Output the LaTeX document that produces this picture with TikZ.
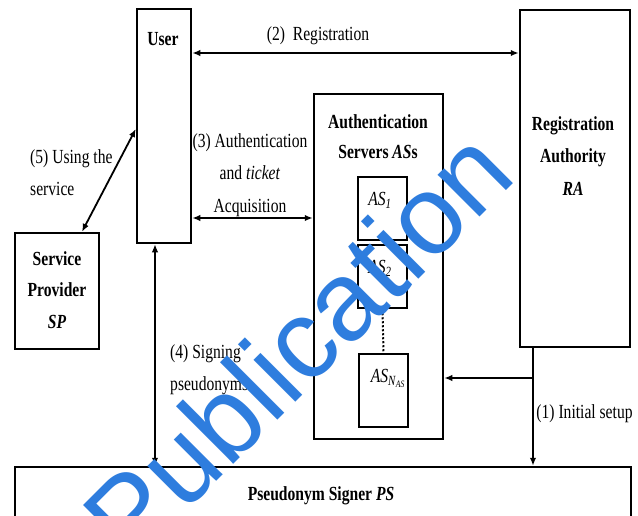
\documentclass[tikz,border=0pt]{standalone}
\usepackage{fontspec}
\setmainfont{Liberation Serif}
\newfontfamily\wmfont{Liberation Sans}
\usepackage{graphicx}
\usetikzlibrary{arrows.meta,calc}
\definecolor{wmblue}{RGB}{46,125,222}
\newcommand{\cx}[1]{\scalebox{0.78}[1]{#1}}
\newcommand{\tl}[2][c]{\cx{\begin{tabular}[t]{@{}#1@{}}#2\end{tabular}}}
\begin{document}
\begin{tikzpicture}[x=1pt,y=-1pt,
  box/.style={draw,line width=2.5pt,rectangle,inner sep=0pt,minimum width=#1},
  box/.default=10pt,
  txt/.style={inner sep=0pt,anchor=base,font=\fontsize{20}{32.5}\selectfont},
  arr/.style={line width=1.8pt,{Latex[length=8pt,width=6.5pt]}-{Latex[length=8pt,width=6.5pt]}},
  arrone/.style={line width=1.8pt,-{Latex[length=8pt,width=6.5pt]}}]
\useasboundingbox (0,0) rectangle (638,515);
\fill[white] (0,0) rectangle (638,515);
% boxes
\node[box=54pt,minimum height=234pt] (user) at (164,126) {};
\node[box=110pt,minimum height=337pt] (ra) at (575,178.5) {};
\node[box=129pt,minimum height=345pt] (as) at (378.5,266.5) {};
\node[box=49pt,minimum height=63pt] (as1) at (382.5,208.5) {};
\node[box=49pt,minimum height=63pt] (as2) at (382.5,276.5) {};
\node[box=49pt,minimum height=73pt] (asn) at (383.5,390.5) {};
\node[box=84pt,minimum height=116pt] (sp) at (57,291) {};
\node[box=616pt,minimum height=63pt] (ps) at (323,498.5) {};
% box texts
\node[txt] (usert) at (163,45) {\cx{\textbf{User}}};
\node[txt] (rat) at (573,130) {\tl{\textbf{Registration}\\\textbf{Authority}\\\textbf{\textit{RA}}}};
\node[txt,font=\fontsize{20}{30}\selectfont] (ast) at (378,128) {\tl{\textbf{Authentication}\\\textbf{Servers \textit{AS}s}}};
\node[txt] (as1t) at (380,205) {\cx{\textit{AS}\textsubscript{\textit{1}}}};
\node[txt] (as2t) at (380,273) {\cx{\textit{AS}\textsubscript{\textit{2}}}};
\node[txt] (asnt) at (388,382) {\cx{\textit{AS}\textsubscript{\textit{N}\textsubscript{\textit{AS}}}}};
\node[txt,font=\fontsize{20}{31.5}\selectfont] (spt) at (57,265) {\tl{\textbf{Service}\\\textbf{Provider}\\\textbf{\textit{SP}}}};
\node[txt] (pst) at (321,500) {\cx{\textbf{Pseudonym Signer \textit{PS}}}};
% connectors
\coordinate (regy) at (0,53);
\coordinate (authy) at (0,218);
\coordinate (initx) at (533,0);
\coordinate (branchy) at (0,378);
\coordinate (signx) at (155,0);
\draw[arr] (user.east |- regy) -- (ra.west |- regy);
\draw[arr] (user.east |- authy) -- (as.west |- authy);
\draw[arr] ($(sp.north)+(25,0)$) -- ($(user.west)+(0,3)$);
\draw[arr,line width=1.5pt] (user.south -| signx) -- (ps.north -| signx);
\draw[arrone] (ra.south -| initx) -- (ps.north -| initx);
\draw[arrone] (initx |- branchy) -- (as.east |- branchy);
\draw[line width=2pt,dotted] (as2.south) -- (asn.north);
% connector labels
\node[txt] (regl) at (318,40) {\cx{(2)~~Registration}};
\node[txt] (authl) at (250,147) {\tl{(3) Authentication\\and \textit{ticket}\\Acquisition}};
\node[txt,anchor=base west] (usel) at (30,163) {\tl[l]{(5) Using the\\service}};
\node[txt,anchor=base west] (signl) at (170,358) {\tl[l]{(4) Signing\\pseudonyms}};
\node[txt] (initl) at (584.5,418) {\cx{(1) Initial setup}};
% watermark
\node[inner sep=0pt,rotate=45,text=wmblue,font=\wmfont\fontsize{112}{112}\selectfont] (wm) at (297,344) {Publication};
\end{tikzpicture}
\end{document}
